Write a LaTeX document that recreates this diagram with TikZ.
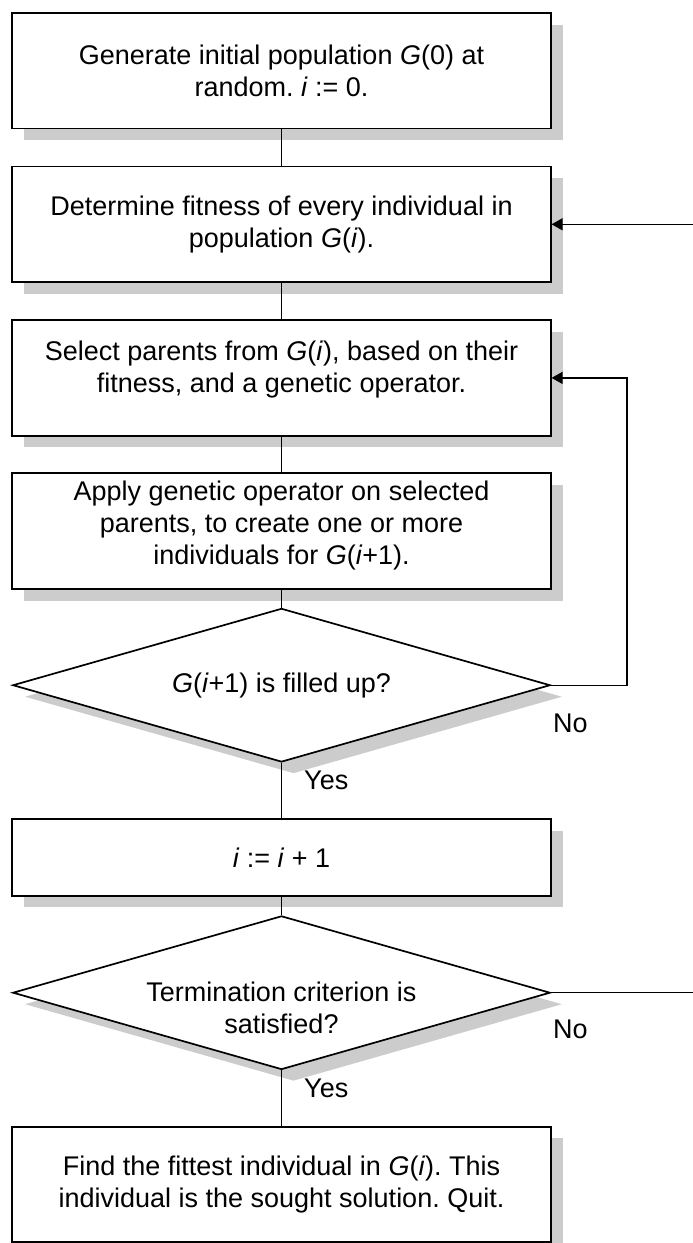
\documentclass[tikz,border=0pt]{standalone}
\usepackage{fontspec}
\setmainfont{Liberation Sans}
\frenchspacing
\usetikzlibrary{shapes.geometric,shadows,arrows.meta}
\definecolor{shadowgray}{HTML}{CCCCCC}

\begin{document}
\begin{tikzpicture}[x=1pt,y=-1pt,
  every node/.style={font=\fontsize{27}{32}\selectfont},
  boxshadow/.style={drop shadow={shadow xshift=12pt, shadow yshift=-11.5pt, fill=shadowgray, opacity=1}},
  stepbox/.style={draw, line width=1.7pt, fill=white, rectangle,
    minimum width=538.4pt, minimum height=115.5pt, inner sep=0pt,
    align=center, boxshadow},
  decision/.style={draw, line width=1.7pt, fill=white, diamond,
    minimum width=537.4pt, minimum height=153.6pt, inner sep=0pt,
    boxshadow},
  link/.style={line width=1.3pt},
  arr/.style={link, -{Triangle[length=11pt,width=12pt]}},
  answer/.style={anchor=base west, inner sep=0pt},
  caption/.style={inner sep=0pt, align=center}
]
\useasboundingbox (0,0) rectangle (693,1243);

% process steps and decisions
\node[stepbox] (b1) at (281.5,70.8)
  {Generate initial population \textit{G}(0) at\\random. \textit{i} := 0.};
\node[stepbox] (b2) at (281.5,224.3)
  {Determine fitness of every individual in\\population \textit{G}(\textit{i}).};
\node[stepbox] (b3) at (281.5,377.9) {};
\node[caption] (b3text) at (281.5,370)
  {Select parents from \textit{G}(\textit{i}), based on their\\fitness, and a genetic operator.};
\node[stepbox, minimum height=116pt] (b4) at (281.5,531.3) {};
\node[caption] (b4text) at (281.5,526)
  {Apply genetic operator on selected\\parents, to create one or more\\individuals for \textit{G}(\textit{i}+1).};
\node[decision] (d1) at (281.5,685.2) {};
\node[caption] (d1text) at (281.5,685.5)
  {\textit{G}(\textit{i}+1) is filled up?};
\node[stepbox, minimum height=76.4pt] (b5) at (281.5,857.5)
  {\textit{i} := \textit{i} + 1};
\node[decision] (d2) at (281.5,992.7) {};
\node[caption] (d2text) at (281.5,1007.5) {Termination criterion is\\satisfied?};
\node[stepbox] (b6) at (281.5,1184.5)
  {Find the fittest individual in \textit{G}(\textit{i}). This\\individual is the sought solution. Quit.};

% free ends of the connectors
\coordinate (loopc) at (627,377.9);
\coordinate (fromright) at (693,224.3);
\coordinate (toright) at (693,992.7);

% connectors
\draw[link] (b1) -- (b2);
\draw[link] (b2) -- (b3);
\draw[link] (b3) -- (b4);
\draw[link] (b4) -- (d1);
\draw[link] (d1) -- (b5);
\draw[link] (b5) -- (d2);
\draw[link] (d2) -- (b6);
\draw[arr] (d1.east) -| (loopc) -- (b3.east);
\draw[arr] (fromright) -- (b2.east);
\draw[link] (d2.east) -- (toright);

% branch labels
\node[answer] (no1) at (553,732) {No};
\node[answer] (yes1) at (304,789.5) {Yes};
\node[answer] (no2) at (553,1038.7) {No};
\node[answer] (yes2) at (304,1097.5) {Yes};
\end{tikzpicture}
\end{document}
